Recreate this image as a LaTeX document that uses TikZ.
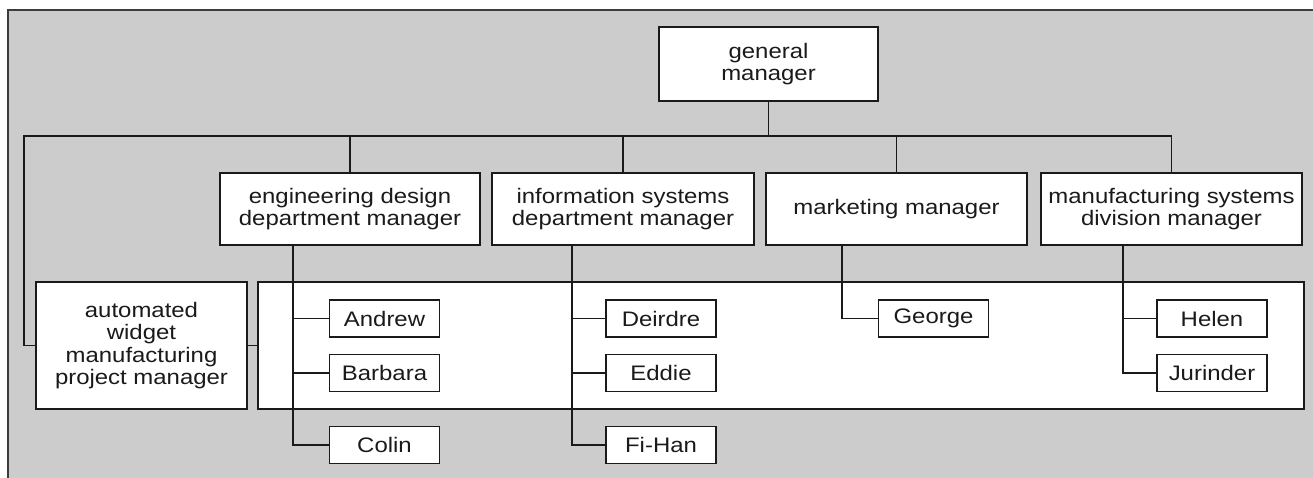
\documentclass[tikz,border=0pt]{standalone}
\usepackage{fontspec}
\setmainfont{Liberation Sans}[FakeStretch=1.14]
\definecolor{panel}{HTML}{CCCCCC}
\definecolor{ink}{HTML}{1A1A1A}
\begin{document}
\begin{tikzpicture}[x=1pt,y=-1pt,
  line width=1.8pt, draw=ink,
  box/.style={draw=ink, fill=white, line width=1.8pt, inner sep=0pt, align=center,
    text=ink, font=\fontsize{21}{22.5}\selectfont},
  mgr/.style={box, minimum width=261pt, minimum height=72pt},
  person/.style={box, minimum width=110pt, minimum height=37pt},
  link/.style={draw=ink, line width=1.8pt}]
\useasboundingbox (0,0) rectangle (1313,477);
\fill[white] (0,0) rectangle (1313,477);
\begin{scope}
  \clip (0,0) rectangle (1313,477);
  \draw[fill=panel, draw=ink!85, line width=1.8pt] (8,10) rectangle (1340,500);
\end{scope}

% managers
\node[box, minimum width=219pt, minimum height=74pt] (gm) at (768.5,64) {general\\manager};
\node[mgr, minimum width=260pt] (eng) at (350,209) {engineering design\\department manager};
\node[mgr, minimum width=262pt] (info) at (623,209) {information systems\\department manager};
\node[mgr] (mkt) at (896.5,209) {marketing manager};
\node[mgr] (mfg) at (1171.5,209) {manufacturing systems\\division manager};
\node[box, minimum width=211pt, minimum height=127pt] (pm) at (141.5,345.5)
  {automated\\widget\\manufacturing\\project manager};
\node[box, minimum width=1046pt, minimum height=127pt] (team) at (781,345.5) {};

% bus from the general manager
\coordinate (busL) at (24,136);
\draw[link] (gm.south) -- (gm.south |- busL);
\draw[link] (pm.west) -| (busL) -| (mfg.north);
\foreach \d in {eng,info,mkt}
  \draw[link] (\d.north) -- (\d.north |- busL);
\draw[link] (pm.east) -- (team.west);

% staff
\node[person] (andrew)  at (384.5,318.5) {Andrew};
\node[person] (barbara) at (384.5,373)   {Barbara};
\node[person] (colin)   at (384.5,445)   {Colin};
\node[person] (deirdre) at (661,318.5)   {Deirdre};
\node[person] (eddie)   at (661,373)     {Eddie};
\node[person] (fihan)   at (661,445)     {Fi-Han};
\node[person] (george)  at (933.5,318.5) {George};
\node[person] (helen)   at (1212,318.5)  {Helen};
\node[person] (jurinder) at (1212,373)   {Jurinder};

% reporting lines
\path (eng.south)  ++(-57,0)   coordinate (ev);
\path (info.south) ++(-51,0)   coordinate (iv);
\path (mkt.south)  ++(-54.5,0) coordinate (mv);
\path (mfg.south)  ++(-48.5,0) coordinate (fv);
\draw[link] (ev) |- (colin.west);
\draw[link] (andrew.west) -- (andrew.west -| ev);
\draw[link] (barbara.west) -- (barbara.west -| ev);
\draw[link] (iv) |- (fihan.west);
\draw[link] (deirdre.west) -- (deirdre.west -| iv);
\draw[link] (eddie.west) -- (eddie.west -| iv);
\draw[link] (mv) |- (george.west);
\draw[link] (fv) |- (jurinder.west);
\draw[link] (helen.west) -- (helen.west -| fv);
\end{tikzpicture}
\end{document}
